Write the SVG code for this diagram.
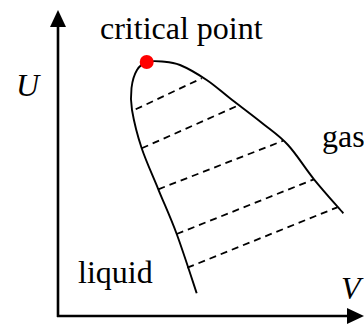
<svg xmlns="http://www.w3.org/2000/svg" width="364" height="325" viewBox="0 0 364 325">
<style>
text{font-family:"Liberation Serif","DejaVu Serif",serif;font-size:32px;fill:#000}
.it{font-style:italic}
.axis{stroke:#000;stroke-width:2.6;fill:none}
.curve{stroke:#000;stroke-width:1.9;fill:none}
.tie{stroke:#000;stroke-width:1.8;fill:none;stroke-dasharray:7 5}
</style>
<rect width="364" height="325" fill="#fff"/>
<g id="axes">
<line class="axis" x1="58" y1="24" x2="58" y2="317"/>
<line class="axis" x1="57" y1="316" x2="350" y2="316"/>
<polygon points="58,10 50,27 66,27" fill="#000"/>
<polygon points="364,316 347,308 347,324" fill="#000"/>
<text class="it" x="16" y="96">U</text>
<text class="it" x="341" y="299">V</text>
</g>
<g id="connectors">
<line class="tie" x1="135.7" y1="109.3" x2="201.7" y2="78.3"/>
<line class="tie" x1="141.7" y1="148.3" x2="239.3" y2="105"/>
<line class="tie" x1="158.3" y1="189.3" x2="283.3" y2="140.7"/>
<line class="tie" x1="176.7" y1="234" x2="314" y2="179.3"/>
<line class="tie" x1="187.3" y1="267.7" x2="337.3" y2="207.3"/>
</g>
<g id="coexistence-curve">
<path class="curve" d="M196.7,293.3 C193.4,283.4 183.1,251.3 176.7,234 C170.3,216.7 164.1,203.6 158.3,189.3 C152.5,175 146.1,161.5 141.7,148.3 C137.3,135.1 133.7,120.05 132,110 C130.3,99.95 130.7,94.7 131.5,88 C132.3,81.3 134.4,74.3 137,70 C139.6,65.7 142.8,63.4 147,62 C151.2,60.6 156.5,61 162,61.5 C167.5,62 172.6,61.9 180,65 C187.5,68.1 198.4,74.45 206.7,80 C215,85.55 220.8,91.1 230,98.3 C239.2,105.5 252.3,115.2 262,123 C271.7,130.8 279.3,135.6 288,145 C296.7,154.4 304.8,167.9 314,179.3 C323.2,190.7 338.4,207.6 343.3,213.3"/>
</g>
<g id="critical-point">
<circle cx="146.7" cy="62" r="7" fill="#ff0000"/>
<text x="100" y="39">critical point</text>
</g>
<g id="liquid">
<text x="78" y="283">liquid</text>
</g>
<g id="gas">
<text x="322" y="147">gas</text>
</g>
</svg>
